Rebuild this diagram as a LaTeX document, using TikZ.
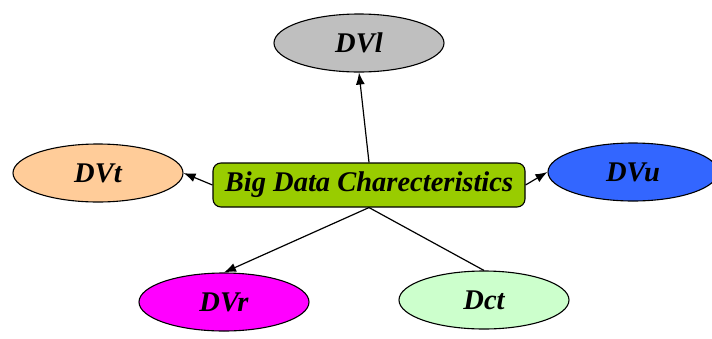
\documentclass[tikz,border=0pt]{standalone}
\usepackage{fontspec}
\setmainfont{Liberation Serif}
\usepackage{xcolor}
\usepackage{tikz}
\usetikzlibrary{positioning, shapes, arrows.meta}
\definecolor{silvergray}{rgb}{0.75, 0.75, 0.75}
\definecolor{peach}{rgb}{1.0, 0.8, 0.6}
\definecolor{royalblue}{rgb}{0.2, 0.4, 1.0}
\definecolor{yellowgreen}{rgb}{0.6, 0.8, 0.0}
\definecolor{magentapink}{rgb}{1.0, 0.0, 1.0}
\definecolor{mintgreen}{rgb}{0.8, 1.0, 0.8}

\begin{document}
\begin{tikzpicture}[x=1pt, y=-1pt]
		\tikzstyle{vnode}=[ellipse, draw=black, line width=1.1pt, minimum width=170pt, minimum height=58pt, inner sep=0pt, font=\fontsize{28.5}{32}\selectfont\bfseries\itshape]
		\tikzstyle{hub}=[rectangle, rounded corners=8pt, draw=black, line width=1.1pt, fill=yellowgreen, minimum width=312pt, minimum height=44pt, inner sep=0pt, font=\fontsize{28.5}{32}\selectfont\bfseries\itshape]
		\tikzstyle{link}=[line width=1.2pt, -{Latex[length=12pt, width=9pt]}]
		
		\useasboundingbox (0,0) rectangle (712,338);
		
		\node (bd) at (369,185) [hub] {Big Data Charecteristics};
		\node (dvl) at (359,43) [vnode, fill=silvergray] {DVl};
		\node (dvt) at (98,173) [vnode, fill=peach] {DVt};
		\node (dvu) at (633,172) [vnode, fill=royalblue] {DVu};
		\node (dvr) at (224,302) [vnode, fill=magentapink] {DVr};
		\node (dct) at (484,300) [vnode, fill=mintgreen] {Dct};
		
		\draw [link] (bd.north)--(dvl.south);
		\draw [link] (bd.west)--(dvt.east);
		\draw [link] (bd.east)--(dvu.west);
		\draw [link] (bd.south)--(dvr.north);
		\draw [line width=1.2pt] (bd.south)--(dct.north);
\end{tikzpicture}
\end{document}
